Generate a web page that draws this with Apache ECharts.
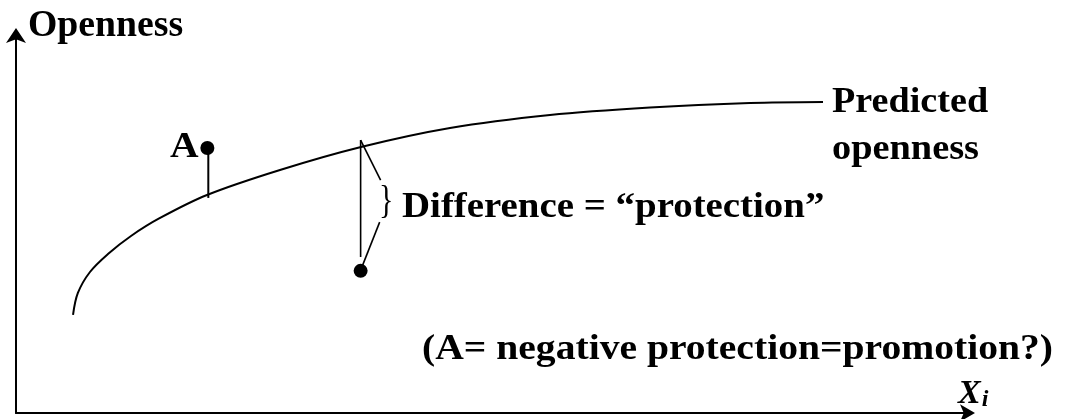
<!DOCTYPE html>
<html>
<head>
<meta charset="utf-8">
<script src="https://cdn.jsdelivr.net/npm/echarts@6/dist/echarts.min.js"></script>
<style>
  html, body { margin: 0; padding: 0; background: #fff; }
  #chart { width: 1069px; height: 419px; }
</style>
</head>
<body>
<div id="chart"></div>
<script>
// predicted openness curve (axis units 0-100)
const curveX = [5.99, 6.5, 7.77, 9.66, 12.08, 15.13, 20.06, 27.73, 36.24, 45.59, 56.09, 66.6, 77.1, 84.77]
const curveY = [25.93, 31.75, 37.3, 42.06, 46.83, 51.59, 57.67, 64.29, 70.37, 75.4, 78.84, 80.82, 82.01, 82.28]
// observed points: A (above the curve) and the protected one (below)
const pointA = [20.1, 70.1]
const pointB = [36.2, 37.6]
// connector segments
const stemA = [[20.2, 70.4], [20.2, 56.9]]
const stemB = [[36.2, 72.2], [36.2, 41.3]]
const braceTop = [[36.2, 72.2], [38.3, 61.6]]
const braceBottom = [[38.2, 50.5], [36.3, 38.4]]

const serif = "'Times New Roman', 'Liberation Serif', serif"
const black = '#000'

function seg (data, width) {
  return {
    type: 'line',
    data: data,
    symbol: 'none',
    silent: true,
    lineStyle: { color: black, width: width }
  }
}

// bold serif label, stretched a little wider like the original figure
function label (text, x, y, sx, align, font) {
  return {
    type: 'text',
    x: x,
    y: y,
    scaleX: sx || 1,
    silent: true,
    style: {
      text: text,
      fill: black,
      font: font || 'bold 36px ' + serif,
      textAlign: align || 'left',
      textVerticalAlign: 'middle'
    }
  }
}

const chart = echarts.init(document.getElementById('chart'))

const option = {
  animation: false,
  grid: { left: 16, right: 101, top: 35, bottom: 6 },
  xAxis: {
    type: 'value',
    min: 0,
    max: 100,
    axisLine: {
      lineStyle: { color: black, width: 2 },
      symbol: ['none', 'arrow'],
      symbolSize: [13, 15],
      symbolOffset: [0, 7]
    },
    axisTick: { show: false },
    axisLabel: { show: false },
    splitLine: { show: false }
  },
  yAxis: {
    type: 'value',
    min: 0,
    max: 100,
    axisLine: {
      lineStyle: { color: black, width: 2 },
      symbol: ['none', 'arrow'],
      symbolSize: [15, 15],
      symbolOffset: [0, 7]
    },
    axisTick: { show: false },
    axisLabel: { show: false },
    splitLine: { show: false }
  },
  series: [
    {
      type: 'line',
      data: curveX.map((x, i) => [x, curveY[i]]),
      smooth: 0.35,
      symbol: 'none',
      silent: true,
      lineStyle: { color: black, width: 2 }
    },
    seg(stemA, 2),
    seg(stemB, 1.6),
    seg(braceTop, 1.6),
    seg(braceBottom, 1.6),
    {
      type: 'scatter',
      data: [pointA, pointB],
      symbolSize: 14,
      silent: true,
      itemStyle: { color: black, opacity: 1 }
    }
  ],
  graphic: [
    label('Openness', 28, 26, 1.02, 'left', 'bold 37px ' + serif),
    label('A', 170, 148, 1.1),
    label('Predicted', 832, 103, 1.06),
    label('openness', 832, 150, 1.065),
    label('Difference = “protection”', 402, 208, 1.08),
    label('(A= negative protection=promotion?)', 1053, 350, 1.1, 'right'),
    label('}', 379, 202, 0.75, 'left', '40px ' + serif),
    {
      type: 'text',
      x: 958,
      y: 394,
      silent: true,
      style: {
        text: '{x|X}{i|i}',
        textVerticalAlign: 'middle',
        rich: {
          x: { font: 'italic bold 34px ' + serif, fill: black },
          i: { font: 'italic bold 24px ' + serif, fill: black, padding: [12, 0, 0, 1] }
        }
      }
    }
  ]
}

chart.setOption(option)
</script>
</body>
</html>
